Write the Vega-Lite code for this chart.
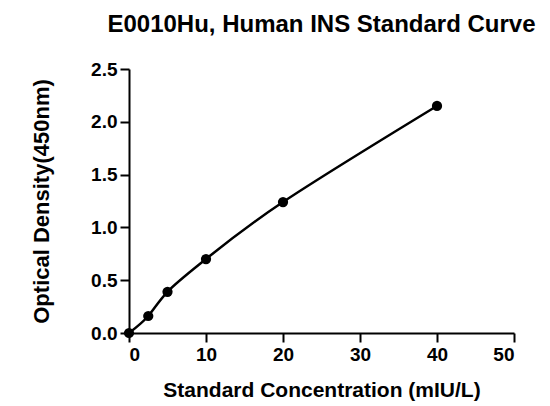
{
  "$schema": "https://vega.github.io/schema/vega-lite/v6.json",
  "width": 385,
  "height": 264,
  "autosize": {"type": "none"},
  "padding": {"left": 129, "top": 69, "right": 36, "bottom": 73},
  "background": "white",
  "title": {
    "text": "E0010Hu, Human INS Standard Curve",
    "font": "Liberation Sans",
    "fontSize": 24,
    "fontWeight": "bold",
    "color": "black",
    "anchor": "middle",
    "offset": 23
  },
  "config": {
    "view": {"stroke": null},
    "axis": {
      "domainColor": "black",
      "domainWidth": 2,
      "tickColor": "black",
      "tickWidth": 2,
      "tickSize": 9,
      "grid": false,
      "labelFont": "Liberation Sans",
      "labelFontSize": 19,
      "labelFontWeight": "bold",
      "labelColor": "black",
      "titleFont": "Liberation Sans",
      "titleFontSize": 21,
      "titleFontWeight": "bold",
      "titleColor": "black"
    }
  },
  "data": {
    "values": [
      {"conc": 0, "od": 0.0},
      {"conc": 2.5, "od": 0.161},
      {"conc": 5, "od": 0.39},
      {"conc": 10, "od": 0.70},
      {"conc": 20, "od": 1.24},
      {"conc": 40, "od": 2.15}
    ]
  },
  "encoding": {
    "x": {
      "field": "conc",
      "type": "quantitative",
      "scale": {"domain": [0, 50], "nice": false},
      "axis": {"title": "Standard Concentration (mIU/L)", "values": [0, 10, 20, 30, 40, 50], "labelPadding": 3, "titlePadding": 15}
    },
    "y": {
      "field": "od",
      "type": "quantitative",
      "scale": {"domain": [0, 2.5], "nice": false},
      "axis": {"title": "Optical Density(450nm)", "values": [0, 0.5, 1, 1.5, 2, 2.5], "format": ".1f", "labelPadding": 3, "titlePadding": 37, "titleFontSize": 22}
    }
  },
  "layer": [
    {"mark": {"type": "line", "interpolate": "natural", "color": "black", "strokeWidth": 2.5}},
    {"mark": {"type": "point", "filled": true, "color": "black", "opacity": 1, "size": 105}}
  ]
}
